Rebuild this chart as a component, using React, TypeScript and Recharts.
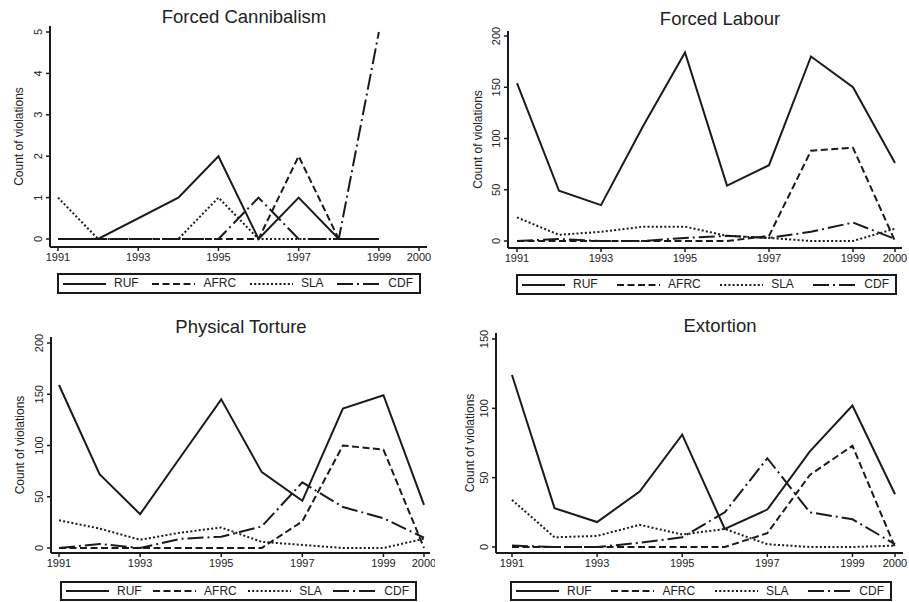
import React from 'react'
import { LineChart, Line, XAxis, YAxis } from 'recharts'

const years = [1991, 1992, 1993, 1994, 1995, 1996, 1997, 1998, 1999, 2000]
const cannibalismYears = [1991, 1992, 1993, 1994, 1995, 1996, 1997, 1998, 1999]
const xTicks = [1991, 1993, 1995, 1997, 1999, 2000]

// Forced Cannibalism (no 2000 values)
const cannibalismRUF = [0, 0, null, 1, 2, 0, 1, 0, 0]
const cannibalismAFRC = [0, 0, 0, 0, 0, 0, 2, 0, 0]
const cannibalismSLA = [1, 0, 0, 0, 1, 0, 0, 0, 0]
const cannibalismCDF = [0, 0, 0, 0, 0, 1, 0, 0, 5]

// Forced Labour
const labourRUF = [154, 49, 35, 112, 184, 54, 74, 180, 150, 76]
const labourAFRC = [0, 0, 0, 0, 0, 0, 5, 88, 91, 0]
const labourSLA = [23, 6, 9, 14, 14, 5, 3, 0, 0, 12]
const labourCDF = [0, 2, 0, 0, 3, 5, 3, 9, 18, 2]

// Physical Torture
const tortureRUF = [159, 72, 33, 89, 145, 74, 46, 136, 149, 42]
const tortureAFRC = [0, 0, 0, 0, 0, 0, 26, 100, 96, 0]
const tortureSLA = [27, 19, 8, 15, 20, 6, 3, 0, 0, 9]
const tortureCDF = [0, 4, 0, 9, 11, 21, 64, 40, 29, 10]

// Extortion
const extortionRUF = [124, 28, 18, 40, 81, 13, 27, 69, 102, 38]
const extortionAFRC = [0, 0, 0, 0, 0, 0, 10, 52, 73, 0]
const extortionSLA = [34, 7, 8, 16, 9, 13, 2, 0, 0, 1]
const extortionCDF = [1, 0, 0, 3, 7, 25, 64, 25, 20, 2]

const FONT = '"Liberation Sans", Arial, sans-serif'
const INK = '#1a1a1a'

const SERIES = [
  { key: 'RUF', dash: undefined as string | undefined },
  { key: 'AFRC', dash: '7 3.5' },
  { key: 'SLA', dash: '2 2.2' },
  { key: 'CDF', dash: '16 4 2 4' },
]

function buildRows(xs: number[], ruf: (number | null)[], afrc: number[], sla: number[], cdf: number[]) {
  return xs.map((year, i) => ({ year, RUF: ruf[i], AFRC: afrc[i], SLA: sla[i], CDF: cdf[i] }))
}

const YTick = (props: any) => {
  const { x, y, payload } = props
  const bx = x - 4
  return (
    <text
      x={bx}
      y={y}
      transform={`rotate(-90 ${bx} ${y})`}
      textAnchor="middle"
      fontSize={11}
      fontFamily={FONT}
      fill="#222"
    >
      {payload.value}
    </text>
  )
}

type PanelProps = {
  title: string
  titleX: number
  titleY: number
  rows: any[]
  yMax: number
  yTicks: number[]
  left: number
  top: number
  plotRight: number
  plotBottom: number
  padX: [number, number]
  padY: [number, number]
  labelOffset: number
  legend: { x: number; y: number; w: number; h: number }
}

function Legend4({ x, y, w, h }: { x: number; y: number; w: number; h: number }) {
  return (
    <div
      style={{
        position: 'absolute',
        left: x,
        top: y,
        width: w,
        height: h,
        boxSizing: 'border-box',
        border: `2px solid ${INK}`,
        display: 'flex',
        alignItems: 'center',
        justifyContent: 'space-between',
        padding: '0 6px 0 4px',
        fontFamily: FONT,
        fontSize: 12,
        color: '#222',
        background: '#fff',
      }}
    >
      {SERIES.map((s) => (
        <div key={s.key} style={{ display: 'flex', alignItems: 'center' }}>
          <svg width={43} height={6} style={{ display: 'block' }}>
            <line x1={0} y1={3} x2={43} y2={3} stroke={INK} strokeWidth={2.2} strokeDasharray={s.dash} />
          </svg>
          <span style={{ marginLeft: 8, lineHeight: '13px' }}>{s.key}</span>
        </div>
      ))}
    </div>
  )
}

function Panel(p: PanelProps) {
  const chartTop = 10
  const width = p.plotRight - p.left + 5
  const height = p.plotBottom - p.top + 25
  return (
    <>
      <div
        style={{
          position: 'absolute',
          left: p.titleX - 150,
          top: p.titleY - 10,
          width: 300,
          height: 20,
          lineHeight: '20px',
          textAlign: 'center',
          fontFamily: FONT,
          fontSize: 18.5,
          color: '#222',
        }}
      >
        {p.title}
      </div>
      <div style={{ position: 'absolute', left: p.left, top: p.top - chartTop }}>
        <LineChart
          width={width}
          height={height + chartTop}
          data={p.rows}
          margin={{ top: chartTop, right: 5, left: 0, bottom: 0 }}
        >
          <XAxis
            dataKey="year"
            type="number"
            domain={[1991, 2000]}
            ticks={xTicks}
            padding={{ left: p.padX[0], right: p.padX[1] }}
            height={25}
            tickSize={4}
            tickMargin={2}
            axisLine={{ stroke: INK, strokeWidth: 2 }}
            tickLine={{ stroke: INK, strokeWidth: 1.5 }}
            tick={{ fontSize: 11, fontFamily: FONT, fill: '#222' }}
            interval={0}
          />
          <YAxis
            type="number"
            domain={[0, p.yMax]}
            ticks={p.yTicks}
            padding={{ top: p.padY[0], bottom: p.padY[1] }}
            width={50}
            tickSize={4}
            tickMargin={0}
            axisLine={{ stroke: INK, strokeWidth: 2 }}
            tickLine={{ stroke: INK, strokeWidth: 1.5 }}
            tick={<YTick />}
            interval={0}
            label={{
              value: 'Count of violations',
              angle: -90,
              position: 'insideLeft',
              offset: p.labelOffset,
              style: { textAnchor: 'middle', fontSize: 12, fontFamily: FONT, fill: '#222' },
            }}
          />
          {SERIES.map((s) => (
            <Line
              key={s.key}
              dataKey={s.key}
              type="linear"
              stroke={INK}
              strokeWidth={2}
              strokeDasharray={s.dash}
              dot={false}
              connectNulls
              isAnimationActive={false}
            />
          ))}
        </LineChart>
      </div>
      <Legend4 {...p.legend} />
    </>
  )
}

export default function App() {
  return (
    <div style={{ position: 'absolute', left: 0, top: 0, width: 909, height: 602, background: '#fff' }}>
      <Panel
        title="Forced Cannibalism"
        titleX={244}
        titleY={17}
        rows={buildRows(cannibalismYears, cannibalismRUF, cannibalismAFRC, cannibalismSLA, cannibalismCDF)}
        yMax={5}
        yTicks={[0, 1, 2, 3, 4, 5]}
        left={0}
        top={26}
        plotRight={427}
        plotBottom={247}
        padX={[8, 8]}
        padY={[6, 8]}
        labelOffset={19}
        legend={{ x: 57, y: 273, w: 364, h: 21 }}
      />
      <Panel
        title="Forced Labour"
        titleX={720}
        titleY={19}
        rows={buildRows(years, labourRUF, labourAFRC, labourSLA, labourCDF)}
        yMax={200}
        yTicks={[0, 50, 100, 150, 200]}
        left={458}
        top={31}
        plotRight={902}
        plotBottom={248}
        padX={[9, 7]}
        padY={[5, 7]}
        labelOffset={20}
        legend={{ x: 516, y: 274, w: 381, h: 21 }}
      />
      <Panel
        title="Physical Torture"
        titleX={241}
        titleY={327}
        rows={buildRows(years, tortureRUF, tortureAFRC, tortureSLA, tortureCDF)}
        yMax={200}
        yTicks={[0, 50, 100, 150, 200]}
        left={1}
        top={337}
        plotRight={430}
        plotBottom={553}
        padX={[8, 6]}
        padY={[6, 5]}
        labelOffset={19}
        legend={{ x: 60, y: 581, w: 357, h: 20 }}
      />
      <Panel
        title="Extortion"
        titleX={720}
        titleY={326}
        rows={buildRows(years, extortionRUF, extortionAFRC, extortionSLA, extortionCDF)}
        yMax={150}
        yTicks={[0, 50, 100, 150]}
        left={446}
        top={333}
        plotRight={903}
        plotBottom={553}
        padX={[16, 8]}
        padY={[6, 6]}
        labelOffset={24}
        legend={{ x: 510, y: 581, w: 382, h: 20 }}
      />
    </div>
  )
}
